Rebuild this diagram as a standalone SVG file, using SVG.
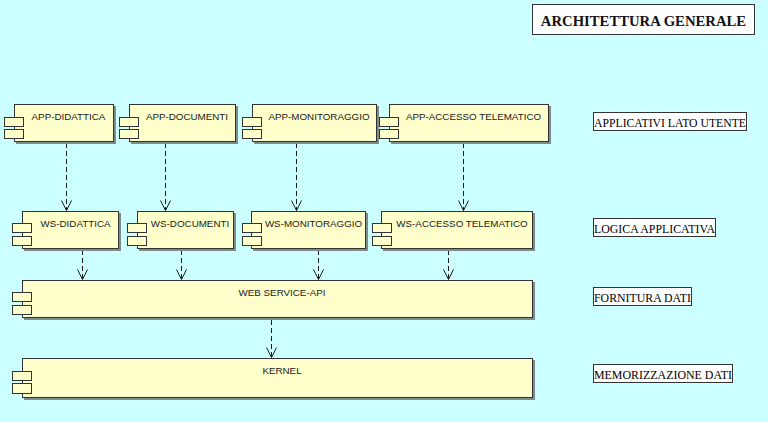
<svg xmlns="http://www.w3.org/2000/svg" width="768" height="422" viewBox="0 0 768 422">
  <style>
    .bg { fill: #ccffff; }
    .comp { fill: #ffffcc; stroke: #333333; stroke-width: 1; }
    .shadow { fill: #7f8c8c; }
    .port { fill: #ffffcc; stroke: #333333; stroke-width: 1; }
    .lbl { font-family: "Liberation Sans", Arial, sans-serif; font-size: 9.8px; fill: #1a1a1a; text-anchor: middle; }
    .note { fill: #ffffff; stroke: #333333; stroke-width: 1; }
    .notetxt { font-family: "Liberation Serif", "Times New Roman", serif; font-size: 13px; fill: #000000; }
    .title { font-family: "Liberation Serif", "Times New Roman", serif; font-size: 14.7px; font-weight: bold; fill: #111111; text-anchor: middle; }
    .dep { fill: none; stroke: #1a1a1a; stroke-width: 1; stroke-dasharray: 5 3; }
    .head { fill: none; stroke: #1a1a1a; stroke-width: 1; }
  </style>
  <defs>
    <marker id="open" viewBox="0 0 12 12" refX="11" refY="6" markerWidth="12" markerHeight="12" markerUnits="userSpaceOnUse" orient="auto">
      <path d="M1,1 L11,6 L1,11" fill="none" stroke="#1a1a1a" stroke-width="1"/>
    </marker>
  </defs>

  <rect class="bg" x="0" y="0" width="768" height="422"/>

  <!-- title -->
  <g id="title">
    <rect class="note" x="532.5" y="4.5" width="222" height="30"/>
    <text class="title" x="643.5" y="26">ARCHITETTURA GENERALE</text>
  </g>

  <!-- layer notes -->
  <g id="note-applicativi">
    <rect class="note" x="593.5" y="112.5" width="153" height="18"/>
    <text class="notetxt" x="594" y="127" textLength="152" lengthAdjust="spacingAndGlyphs">APPLICATIVI LATO UTENTE</text>
  </g>
  <g id="note-logica">
    <rect class="note" x="593.5" y="218.5" width="122" height="18"/>
    <text class="notetxt" x="594" y="233" textLength="121" lengthAdjust="spacingAndGlyphs">LOGICA APPLICATIVA</text>
  </g>
  <g id="note-fornitura">
    <rect class="note" x="593.5" y="287.5" width="98" height="18"/>
    <text class="notetxt" x="594" y="302" textLength="97" lengthAdjust="spacingAndGlyphs">FORNITURA DATI</text>
  </g>
  <g id="note-memorizzazione">
    <rect class="note" x="593.5" y="364.5" width="139" height="18"/>
    <text class="notetxt" x="594" y="379" textLength="138" lengthAdjust="spacingAndGlyphs">MEMORIZZAZIONE DATI</text>
  </g>

  <!-- connectors -->
  <g id="connectors">
    <line class="dep" x1="66.5" y1="143" x2="66.5" y2="210.5" marker-end="url(#open)"/>
    <line class="dep" x1="165.5" y1="143" x2="165.5" y2="210.5" marker-end="url(#open)"/>
    <line class="dep" x1="296.5" y1="143" x2="296.5" y2="210.5" marker-end="url(#open)"/>
    <line class="dep" x1="463.5" y1="143" x2="463.5" y2="210.5" marker-end="url(#open)"/>
    <line class="dep" x1="82.5" y1="250" x2="82.5" y2="279.5" marker-end="url(#open)"/>
    <line class="dep" x1="181.5" y1="250" x2="181.5" y2="279.5" marker-end="url(#open)"/>
    <line class="dep" x1="318.5" y1="250" x2="318.5" y2="279.5" marker-end="url(#open)"/>
    <line class="dep" x1="448.5" y1="250" x2="448.5" y2="279.5" marker-end="url(#open)"/>
    <line class="dep" x1="271.5" y1="320" x2="271.5" y2="357.5" marker-end="url(#open)"/>
  </g>

  <!-- user-side applications -->
  <g id="app-didattica">
    <rect class="shadow" x="16" y="106" width="100" height="38"/>
    <rect class="comp" x="14.5" y="104.5" width="99" height="37"/>
    <rect class="port" x="4.5" y="117.5" width="19" height="9"/>
    <rect class="port" x="4.5" y="129.5" width="19" height="9"/>
    <text class="lbl" x="68.5" y="120">APP-DIDATTICA</text>
  </g>
  <g id="app-documenti">
    <rect class="shadow" x="131" y="106" width="107" height="38"/>
    <rect class="comp" x="129.5" y="104.5" width="106" height="37"/>
    <rect class="port" x="119.5" y="117.5" width="19" height="9"/>
    <rect class="port" x="119.5" y="129.5" width="19" height="9"/>
    <text class="lbl" x="187" y="120">APP-DOCUMENTI</text>
  </g>
  <g id="app-monitoraggio">
    <rect class="shadow" x="254" y="106" width="125" height="38"/>
    <rect class="comp" x="252.5" y="104.5" width="124" height="37"/>
    <rect class="port" x="242.5" y="117.5" width="19" height="9"/>
    <rect class="port" x="242.5" y="129.5" width="19" height="9"/>
    <text class="lbl" x="319" y="120">APP-MONITORAGGIO</text>
  </g>
  <g id="app-accesso-telematico">
    <rect class="shadow" x="391" y="106" width="160" height="38"/>
    <rect class="comp" x="389.5" y="104.5" width="159" height="37"/>
    <rect class="port" x="379.5" y="117.5" width="19" height="9"/>
    <rect class="port" x="379.5" y="129.5" width="19" height="9"/>
    <text class="lbl" x="473.5" y="120">APP-ACCESSO TELEMATICO</text>
  </g>

  <!-- application logic -->
  <g id="ws-didattica">
    <rect class="shadow" x="24" y="213" width="97" height="38"/>
    <rect class="comp" x="22.5" y="211.5" width="96" height="37"/>
    <rect class="port" x="12.5" y="223.5" width="19" height="9"/>
    <rect class="port" x="12.5" y="236.5" width="19" height="9"/>
    <text class="lbl" x="75.5" y="227">WS-DIDATTICA</text>
  </g>
  <g id="ws-documenti">
    <rect class="shadow" x="139" y="213" width="97" height="38"/>
    <rect class="comp" x="137.5" y="211.5" width="96" height="37"/>
    <rect class="port" x="127.5" y="223.5" width="19" height="9"/>
    <rect class="port" x="127.5" y="236.5" width="19" height="9"/>
    <text class="lbl" x="190" y="227">WS-DOCUMENTI</text>
  </g>
  <g id="ws-monitoraggio">
    <rect class="shadow" x="253" y="213" width="115" height="38"/>
    <rect class="comp" x="251.5" y="211.5" width="114" height="37"/>
    <rect class="port" x="242.5" y="223.5" width="19" height="9"/>
    <rect class="port" x="242.5" y="236.5" width="19" height="9"/>
    <text class="lbl" x="313.5" y="227">WS-MONITORAGGIO</text>
  </g>
  <g id="ws-accesso-telematico">
    <rect class="shadow" x="383" y="213" width="152" height="38"/>
    <rect class="comp" x="381.5" y="211.5" width="151" height="37"/>
    <rect class="port" x="372.5" y="223.5" width="19" height="9"/>
    <rect class="port" x="372.5" y="236.5" width="19" height="9"/>
    <text class="lbl" x="462" y="227">WS-ACCESSO TELEMATICO</text>
  </g>

  <!-- data provision -->
  <g id="web-service-api">
    <rect class="shadow" x="24" y="282" width="511" height="38"/>
    <rect class="comp" x="22.5" y="280.5" width="510" height="37"/>
    <rect class="port" x="12.5" y="292.5" width="19" height="9"/>
    <rect class="port" x="12.5" y="305.5" width="19" height="9"/>
    <text class="lbl" x="282" y="296">WEB SERVICE-API</text>
  </g>

  <!-- data storage -->
  <g id="kernel">
    <rect class="shadow" x="24" y="360" width="511" height="40"/>
    <rect class="comp" x="22.5" y="358.5" width="510" height="39"/>
    <rect class="port" x="12.5" y="371.5" width="19" height="9"/>
    <rect class="port" x="12.5" y="383.5" width="19" height="10"/>
    <text class="lbl" x="282" y="374">KERNEL</text>
  </g>
</svg>
